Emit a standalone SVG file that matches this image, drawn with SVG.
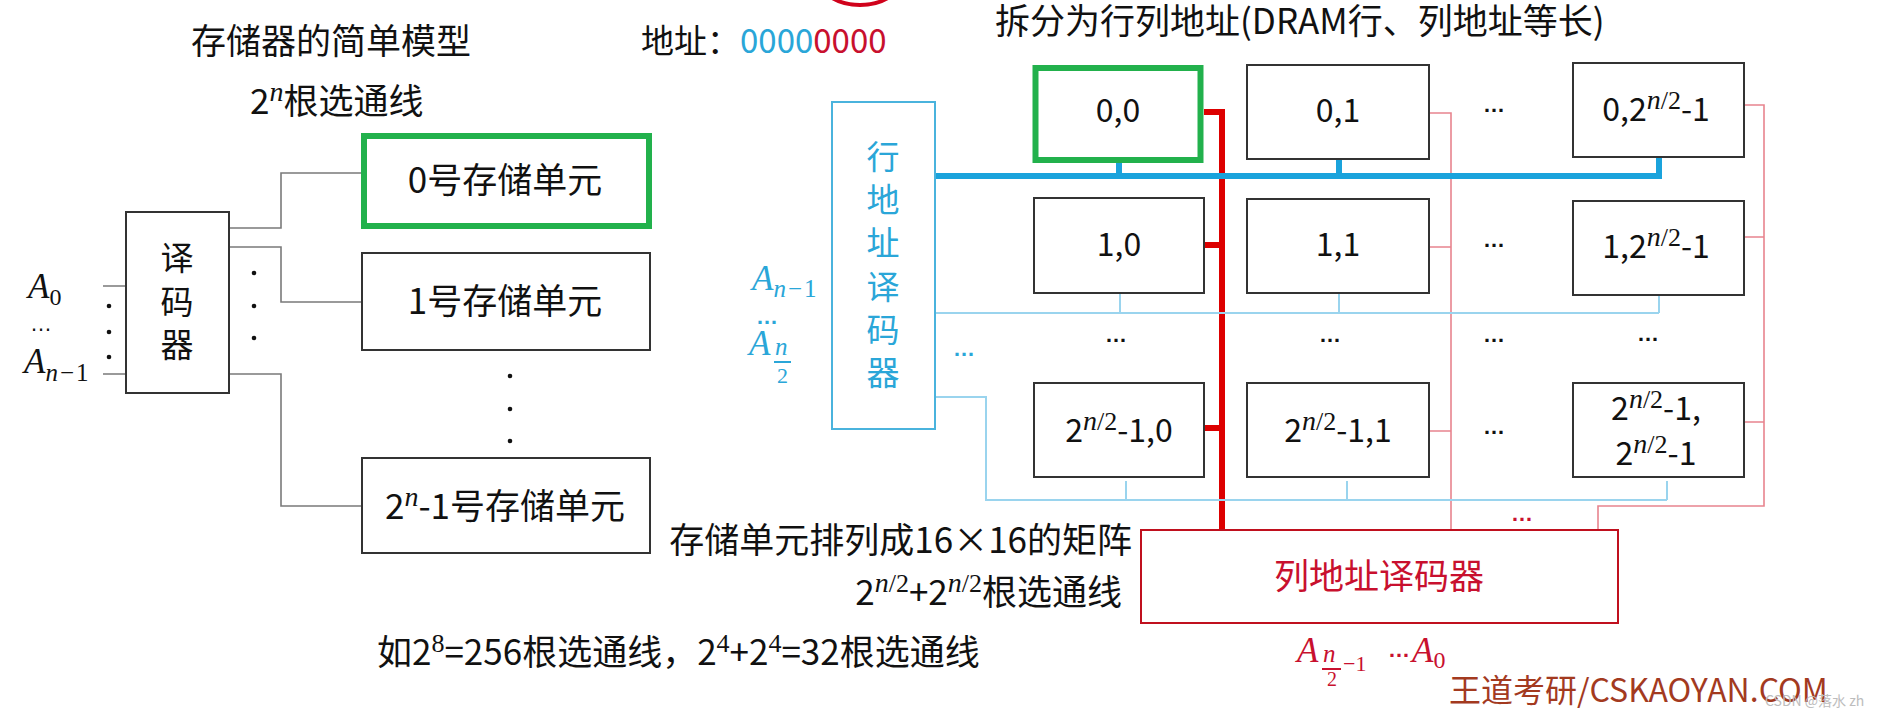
<svg xmlns="http://www.w3.org/2000/svg" width="1881" height="717" viewBox="0 0 1881 717">
<style>
.t{font-family:"Noto Sans CJK SC","Noto Sans",sans-serif;fill:#111}
.f35{font-size:35px}
.f32{font-size:32px}
.m{font-family:"Liberation Serif","DejaVu Serif",serif;font-style:italic}
.u{font-family:"Liberation Serif","DejaVu Serif",serif;font-style:normal}
.sn{font-family:"Liberation Serif","DejaVu Serif",serif;font-style:italic;font-size:28px}
.s2{font-family:"Liberation Serif","DejaVu Serif",serif;font-size:26px}
.dots{font-family:"Liberation Sans",sans-serif;font-size:22px;font-weight:bold;text-anchor:middle}
.box{fill:#fff;stroke:#333;stroke-width:2}
.green{fill:#fff;stroke:#22b14c;stroke-width:6}
.gl{fill:none;stroke:#7a7a7a;stroke-width:1.6}
.bthick{fill:none;stroke:#1aa3dc;stroke-width:6}
.bthin{fill:none;stroke:#9ad4ee;stroke-width:2}
.rthick{fill:none;stroke:#dd0000;stroke-width:6}
.rthin{fill:none;stroke:#e8848e;stroke-width:1.6}
.blue{fill:#2aa6d8}
.red{fill:#c8102e}
.wm{font-family:"Noto Sans CJK SC","Noto Sans",sans-serif;fill:#a33a1f;font-size:32px}
.wm2{font-family:"Noto Sans CJK SC",sans-serif;fill:#bdbdbd;font-size:14px}
</style>
<rect width="1881" height="717" fill="#fff"/>

<!-- top annotations -->
<ellipse cx="860" cy="-20" rx="40" ry="25" fill="none" stroke="#d0021b" stroke-width="4"/>
<text class="t f35" x="331" y="54" text-anchor="middle">存储器的简单模型</text>
<text class="t f35" x="250" y="114">2<tspan class="sn" dy="-13">n</tspan><tspan dy="13">根选通线</tspan></text>
<text class="t" font-size="33" x="641" y="53">地址：<tspan class="blue">0000</tspan><tspan class="red">0000</tspan></text>
<text class="t f35" x="995" y="34">拆分为行列地址(DRAM行、列地址等长)</text>

<!-- connectors -->
<g id="connectors">
  <path class="gl" d="M103 286H126M103 374H126"/>
  <path class="gl" d="M229 228H281V173H362"/>
  <path class="gl" d="M229 247H281V302H362"/>
  <path class="gl" d="M229 374H281V506H362"/>
  <path class="rthick" d="M1204 112H1222V530M1204 245H1222M1204 428H1222"/>
  <path class="rthin" d="M1429 113H1451V530M1429 247H1451M1429 431H1451"/>
  <path class="rthin" d="M1744 105H1764V506H1598V530M1744 237H1764M1744 422H1764"/>
  <path class="bthin" d="M935 313H1659M1120 294V313M1339 294V313M1659 296V313"/>
  <path class="bthin" d="M935 397H986V500H1667M1126 481V500M1347 481V500M1667 481V500"/>
  <path class="bthick" d="M935 176H1659V157M1119 162V176M1339 159V176"/>
</g>

<!-- left simple model -->
<g id="inputs-left">
  <text class="t m" font-size="35" x="28" y="298">A<tspan class="u" font-size="24" dy="7">0</tspan></text>
  <text x="41" y="331" text-anchor="middle" font-family="Liberation Sans, sans-serif" font-size="22" fill="#111">…</text>
  <text class="t m" font-size="35" x="24" y="373">A<tspan font-size="25" dy="8">n</tspan><tspan class="u" font-size="25" dx="2">−</tspan><tspan class="u" font-size="25" dx="2">1</tspan></text>
  <circle cx="109" cy="306" r="2.3" fill="#111"/>
  <circle cx="109" cy="332" r="2.3" fill="#111"/>
  <circle cx="109" cy="357" r="2.3" fill="#111"/>
</g>
<g id="decoder">
  <rect class="box" x="126" y="212" width="103" height="181"/>
  <text class="t" font-size="33" x="177" y="270" text-anchor="middle">译</text>
  <text class="t" font-size="33" x="177" y="314" text-anchor="middle">码</text>
  <text class="t" font-size="33" x="177" y="357" text-anchor="middle">器</text>
  <circle cx="254" cy="273" r="2.3" fill="#111"/>
  <circle cx="254" cy="306" r="2.3" fill="#111"/>
  <circle cx="254" cy="338" r="2.3" fill="#111"/>
</g>
<g id="cell0">
  <rect class="green" x="364" y="136" width="285" height="90"/>
  <text class="t f35" x="505" y="193" text-anchor="middle">0号存储单元</text>
</g>
<g id="cell1">
  <rect class="box" x="362" y="253" width="288" height="97"/>
  <text class="t f35" x="505" y="314" text-anchor="middle">1号存储单元</text>
</g>
<g id="vdots">
  <circle cx="510" cy="376" r="2.3" fill="#111"/>
  <circle cx="510" cy="409" r="2.3" fill="#111"/>
  <circle cx="510" cy="441" r="2.3" fill="#111"/>
</g>
<g id="celln">
  <rect class="box" x="362" y="458" width="288" height="95"/>
  <text class="t f35" x="505" y="519" text-anchor="middle">2<tspan class="sn" dy="-13">n</tspan><tspan dy="13">-1号存储单元</tspan></text>
</g>

<!-- notes -->
<text class="t f35" x="1132" y="553" text-anchor="end">存储单元排列成16×16的矩阵</text>
<text class="t f35" x="1122" y="605" text-anchor="end">2<tspan class="sn" dy="-13">n</tspan><tspan class="s2">/2</tspan><tspan dy="13">+2</tspan><tspan class="sn" dy="-13">n</tspan><tspan class="s2">/2</tspan><tspan dy="13">根选通线</tspan></text>
<text class="t f35" x="377" y="665">如2<tspan class="s2" dy="-13">8</tspan><tspan dy="13">=256根选通线，2</tspan><tspan class="s2" dy="-13">4</tspan><tspan dy="13">+2</tspan><tspan class="s2" dy="-13">4</tspan><tspan dy="13">=32根选通线</tspan></text>

<!-- row decoder -->
<g id="row-decoder">
  <rect x="832" y="102" width="103" height="327" fill="#fff" stroke="#4ab3dd" stroke-width="2"/>
  <text class="t blue" font-size="33" x="883" y="169" text-anchor="middle">行</text>
  <text class="t blue" font-size="33" x="883" y="212" text-anchor="middle">地</text>
  <text class="t blue" font-size="33" x="883" y="255" text-anchor="middle">址</text>
  <text class="t blue" font-size="33" x="883" y="299" text-anchor="middle">译</text>
  <text class="t blue" font-size="33" x="883" y="342" text-anchor="middle">码</text>
  <text class="t blue" font-size="33" x="883" y="385" text-anchor="middle">器</text>
</g>
<g id="row-inputs">
  <text class="m blue" font-size="35" x="752" y="290">A<tspan font-size="25" dy="7">n</tspan><tspan class="u" font-size="25" dx="2">−</tspan><tspan class="u" font-size="25" dx="2">1</tspan></text>
  <text class="dots blue" x="767" y="324">…</text>
  <text class="m blue" font-size="35" x="749" y="355">A</text>
  <text class="m blue" font-size="25" x="775" y="355">n</text>
  <line x1="774" y1="362" x2="791" y2="362" stroke="#2aa6d8" stroke-width="2"/>
  <text class="u blue" font-size="22" x="777" y="383">2</text>
  <text class="dots blue" x="964" y="356">…</text>
</g>

<!-- grid cells -->
<g id="c00">
  <rect class="green" x="1035.5" y="68" width="165" height="92"/>
  <text class="t f32" x="1118" y="122" text-anchor="middle">0,0</text>
</g>
<g id="c01">
  <rect class="box" x="1247" y="65" width="182" height="94"/>
  <text class="t f32" x="1338" y="122" text-anchor="middle">0,1</text>
</g>
<g id="c0n">
  <rect class="box" x="1573" y="63" width="171" height="94"/>
  <text class="t f32" x="1656" y="121" text-anchor="middle">0,2<tspan class="sn" dy="-12">n</tspan><tspan class="s2">/2</tspan><tspan dy="12">-1</tspan></text>
</g>
<g id="c10">
  <rect class="box" x="1034" y="198" width="170" height="95"/>
  <text class="t f32" x="1119" y="256" text-anchor="middle">1,0</text>
</g>
<g id="c11">
  <rect class="box" x="1247" y="199" width="182" height="94"/>
  <text class="t f32" x="1338" y="256" text-anchor="middle">1,1</text>
</g>
<g id="c1n">
  <rect class="box" x="1573" y="201" width="171" height="94"/>
  <text class="t f32" x="1656" y="258" text-anchor="middle">1,2<tspan class="sn" dy="-12">n</tspan><tspan class="s2">/2</tspan><tspan dy="12">-1</tspan></text>
</g>
<g id="cm0">
  <rect class="box" x="1034" y="383" width="170" height="94"/>
  <text class="t f32" x="1119" y="442" text-anchor="middle">2<tspan class="sn" dy="-12">n</tspan><tspan class="s2">/2</tspan><tspan dy="12">-1,0</tspan></text>
</g>
<g id="cm1">
  <rect class="box" x="1247" y="383" width="182" height="94"/>
  <text class="t f32" x="1338" y="442" text-anchor="middle">2<tspan class="sn" dy="-12">n</tspan><tspan class="s2">/2</tspan><tspan dy="12">-1,1</tspan></text>
</g>
<g id="cmn">
  <rect class="box" x="1573" y="383" width="171" height="94"/>
  <text class="t f32" x="1656" y="420" text-anchor="middle">2<tspan class="sn" dy="-12">n</tspan><tspan class="s2">/2</tspan><tspan dy="12">-1,</tspan></text>
  <text class="t f32" x="1656" y="465" text-anchor="middle">2<tspan class="sn" dy="-12">n</tspan><tspan class="s2">/2</tspan><tspan dy="12">-1</tspan></text>
</g>
<g id="grid-ellipses">
  <text class="dots" x="1494" y="112" fill="#111">…</text>
  <text class="dots" x="1494" y="247" fill="#111">…</text>
  <text class="dots" x="1116" y="342" fill="#111">…</text>
  <text class="dots" x="1330" y="342" fill="#111">…</text>
  <text class="dots" x="1494" y="342" fill="#111">…</text>
  <text class="dots" x="1648" y="341" fill="#111">…</text>
  <text class="dots" x="1494" y="434" fill="#111">…</text>
  <text class="dots" x="1522" y="521" fill="#c8102e">…</text>
</g>

<!-- column decoder -->
<g id="col-decoder">
  <rect x="1141" y="530" width="477" height="93" fill="#fff" stroke="#c0101e" stroke-width="2"/>
  <text class="t red" font-size="35" x="1379" y="589" text-anchor="middle">列地址译码器</text>
</g>
<g id="col-inputs">
  <text class="m red" font-size="35" x="1297" y="662">A</text>
  <text class="m red" font-size="25" x="1323" y="662">n</text>
  <line x1="1322" y1="669" x2="1341" y2="669" stroke="#c8102e" stroke-width="2"/>
  <text class="u red" font-size="20" x="1327" y="686">2</text>
  <text class="u red" font-size="22" x="1343" y="671">−1</text>
  <text class="dots red" x="1399" y="657">…</text>
  <text class="m red" font-size="35" x="1412" y="662">A<tspan class="u" font-size="24" dy="6">0</tspan></text>
</g>

<!-- watermark -->
<text class="wm" x="1449" y="702">王道考研/CSKAOYAN.COM</text>
<text class="wm2" x="1765" y="706">CSDN @落水 zh</text>
</svg>
